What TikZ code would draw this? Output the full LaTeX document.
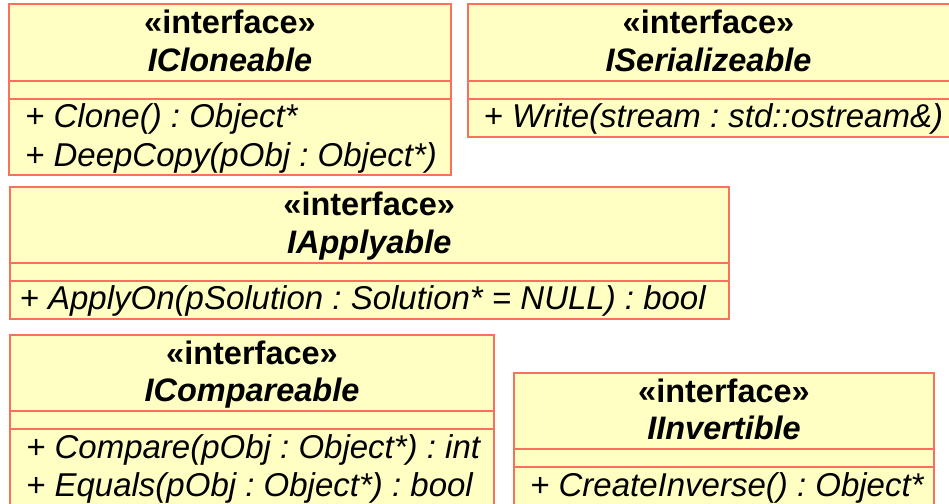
\documentclass[tikz,border=0pt]{standalone}
\usepackage{fontspec}
\setmainfont{Liberation Sans}
\frenchspacing
\definecolor{umlfill}{RGB}{255,255,196}
\definecolor{umlred}{RGB}{250,112,92}

\begin{document}
\begin{tikzpicture}[x=1pt,y=-1pt,
    umlbox/.style={draw=umlred,fill=umlfill,line width=2pt,outer sep=0pt,inner sep=0pt,anchor=north west},
    umlline/.style={draw=umlred,line width=2pt},
    stereo/.style={font=\fontsize{32.5}{38}\selectfont\bfseries,inner sep=0pt,anchor=base},
    cname/.style={font=\fontsize{32.5}{38}\selectfont\bfseries\itshape,inner sep=0pt,anchor=base},
    op/.style={font=\fontsize{33}{38}\selectfont\itshape,inner sep=0pt,anchor=base west}]
    \useasboundingbox (0,0) rectangle (949,503);
    % the five interface boxes
    \foreach \nm/\x/\y/\w/\h/\title in {clone/9/4.5/442/170.5/ICloneable,
        serial/467.5/4.5/482/132.5/ISerializeable, apply/9.5/186.5/719.5/132.5/IApplyable,
        compare/10/335/484/180/ICompareable, invert/514/373/420/140/IInvertible} {
        \node[umlbox,minimum width=\w pt,minimum height=\h pt] (\nm) at (\x,\y) {};
        \draw[umlline] ([yshift=-76pt]\nm.north west) -- ([yshift=-76pt]\nm.north east);
        \draw[umlline] ([yshift=-94pt]\nm.north west) -- ([yshift=-94pt]\nm.north east);
        \node[stereo] (\nm-st) at ([yshift=-29pt]\nm.north) {«interface»};
        \node[cname] (\nm-nm) at ([yshift=-66.5pt]\nm.north) {\title};
    }
    % operations
    \node[op] (clone-op1) at ([shift={(16pt,-123pt)}]clone.north west) {+ Clone() : Object*};
    \node[op] (clone-op2) at ([shift={(16pt,-161.5pt)}]clone.north west) {+ DeepCopy(pObj : Object*)};
    \node[op] (serial-op1) at ([shift={(16pt,-123pt)}]serial.north west) {+ Write(stream : std::ostream\&)};
    \node[op] (apply-op1) at ([shift={(10pt,-123pt)}]apply.north west) {+ ApplyOn(pSolution : Solution* = NULL) : bool};
    \node[op] (compare-op1) at ([shift={(16pt,-123pt)}]compare.north west) {+ Compare(pObj : Object*) : int};
    \node[op] (compare-op2) at ([shift={(16pt,-161.5pt)}]compare.north west) {+ Equals(pObj : Object*) : bool};
    \node[op] (invert-op1) at ([shift={(16pt,-123pt)}]invert.north west) {+ CreateInverse() : Object*};
\end{tikzpicture}
\end{document}
